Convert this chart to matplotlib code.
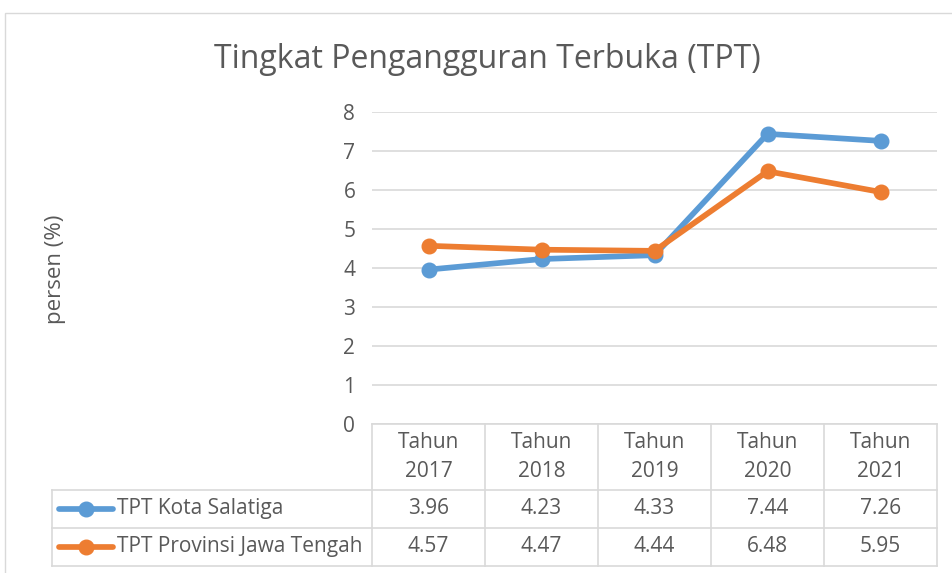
import matplotlib.pyplot as plt
from matplotlib.lines import Line2D
from matplotlib.patches import Rectangle

plt.rcParams['font.family'] = ['Open Sans', 'DejaVu Sans']

years = ["Tahun\n2017", "Tahun\n2018", "Tahun\n2019", "Tahun\n2020", "Tahun\n2021"]
salatiga = [3.96, 4.23, 4.33, 7.44, 7.26]
jateng = [4.57, 4.47, 4.44, 6.48, 5.95]
series_names = ["TPT Kota Salatiga", "TPT Provinsi Jawa Tengah"]
colors = ["#5B9BD5", "#ED7D31"]

text_col = "#595959"
grid_col = "#D9D9D9"
fs = 15
lw = 4.1
ms = 10.5

fig = plt.figure(figsize=(9.52, 5.73), dpi=100)
# chart area border
fig.patches.append(Rectangle((5 / 952, -0.05), 1.0, (573 - 13) / 573 + 0.05,
                             transform=fig.transFigure, fill=False,
                             edgecolor=grid_col, lw=1))

ax = fig.add_axes([0.3908, 0.26, 0.5935, 0.5445])
x = range(len(years))
for vals, c in zip([salatiga, jateng], colors):
    ax.plot(x, vals, color=c, lw=lw, marker="o", ms=ms, solid_capstyle="round", zorder=3)

ax.set_xlim(-0.5, len(years) - 0.5)
ax.set_ylim(0, 8)
ax.set_yticks(range(9))
ax.grid(axis="y", color=grid_col, lw=1.2)
ax.set_axisbelow(True)
for s in ax.spines.values():
    s.set_visible(False)
ax.tick_params(axis="y", length=0, pad=12, labelsize=fs, labelcolor=text_col)
ax.tick_params(axis="x", length=0, labelbottom=False)

fig.text(487 / 952, 1 - 60 / 573, "Tingkat Pengangguran Terbuka (TPT)",
         ha="center", va="center", fontsize=23, color=text_col)
fig.text(55 / 952, 1 - 269 / 573, "persen (%)", rotation=90,
         ha="center", va="center", fontsize=16, color=text_col)

# data table below the axis
tr = ax.get_xaxis_transform()
row_y = [0, -0.2115, -0.333, -0.4551]
left = (52 - 372) / 113 - 0.5
line_kw = dict(color=grid_col, lw=1.2, transform=tr, clip_on=False)
ax.add_line(Line2D([-0.5, 4.5], [0, 0], **line_kw))
for yy in row_y[1:]:
    ax.add_line(Line2D([left, 4.5], [yy, yy], **line_kw))
for i in range(len(years) + 1):
    ax.add_line(Line2D([i - 0.5, i - 0.5], [0, row_y[-1]], **line_kw))
ax.add_line(Line2D([left, left], [row_y[1], row_y[-1]], **line_kw))

for i, lab in enumerate(years):
    ax.text(i, (row_y[0] + row_y[1]) / 2, lab, transform=tr, ha="center", va="center",
            fontsize=fs, color=text_col, linespacing=1.5)
for r, (name, vals, c) in enumerate(zip(series_names, [salatiga, jateng], colors)):
    yc = (row_y[r + 1] + row_y[r + 2]) / 2
    for i, v in enumerate(vals):
        ax.text(i, yc, f"{v:.2f}", transform=tr, ha="center", va="center",
                fontsize=fs, color=text_col)
    ax.add_line(Line2D([left + 0.06, left + 0.54], [yc, yc], color=c, lw=lw,
                       transform=tr, clip_on=False, solid_capstyle="round"))
    ax.add_line(Line2D([left + 0.3], [yc], color=c, marker="o", ms=ms,
                       transform=tr, clip_on=False))
    ax.text(left + 0.575, yc, name, transform=tr, ha="left", va="center",
            fontsize=fs, color=text_col)

fig.savefig("out.png")
